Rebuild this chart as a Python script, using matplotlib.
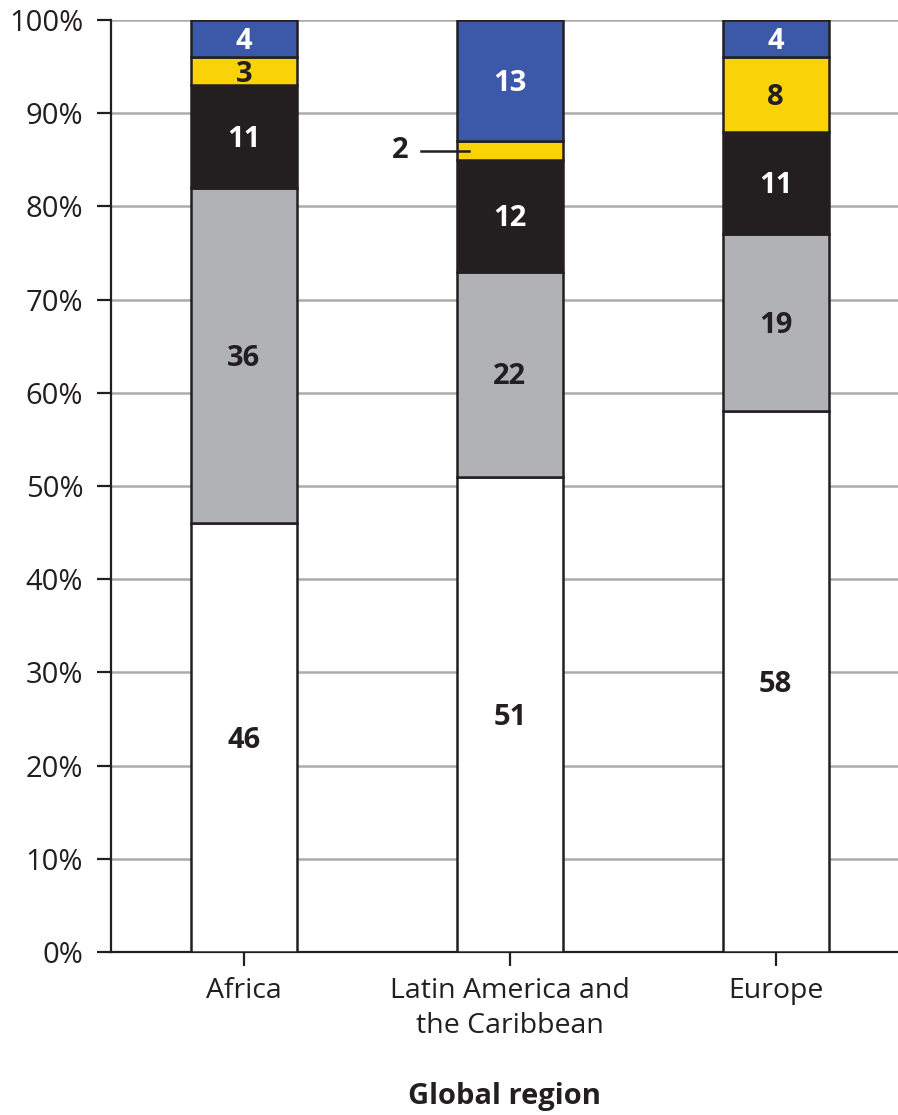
import matplotlib.pyplot as plt
import numpy as np
import matplotlib.ticker as mticker

plt.rcParams['font.family'] = ['Open Sans', 'DejaVu Sans']

regions = ['Africa', 'Latin America and\nthe Caribbean', 'Europe']
seg_white = [46, 51, 58]
seg_gray = [36, 22, 19]
seg_black = [11, 12, 11]
seg_yellow = [3, 2, 8]
seg_blue = [4, 13, 4]

series = [
    (seg_white, '#FFFFFF', '#231F20'),
    (seg_gray, '#B1B2B5', '#231F20'),
    (seg_black, '#231F20', '#FFFFFF'),
    (seg_yellow, '#F9D308', '#231F20'),
    (seg_blue, '#3C58A8', '#FFFFFF'),
]

fig = plt.figure(figsize=(8.98, 11.15), dpi=100)
ax = fig.add_axes([0.1236, 0.1462, 0.8764, 0.8358])

x = np.arange(len(regions))
width = 0.4
bottom = np.zeros(len(regions))
for vals, fc, tc in series:
    vals = np.array(vals, dtype=float)
    ax.bar(x, vals, width, bottom=bottom, color=fc, edgecolor='#231F20',
           linewidth=1.8, zorder=3)
    for xi, b, v in zip(x, bottom, vals):
        if v >= 3:
            ax.text(xi, b + v / 2 - 0.3, f'{int(v)}', ha='center', va='center',
                    color=tc, fontsize=21, fontweight='bold', zorder=4)
    bottom += vals

# small segment label with leader line
ly = seg_white[1] + seg_gray[1] + seg_black[1] + seg_yellow[1] / 2
ax.plot([0.665, 0.845], [ly, ly], color='#231F20', linewidth=1.8, zorder=5)
ax.text(0.586, ly, f'{seg_yellow[1]}', ha='center', va='center',
        color='#231F20', fontsize=21, fontweight='bold')

ax.set_xlim(-0.5, 2.46)
ax.set_ylim(0, 100)
ax.yaxis.set_major_locator(mticker.MultipleLocator(10))
ax.yaxis.set_major_formatter(mticker.FuncFormatter(lambda v, p: f'{int(v)}%'))
ax.grid(axis='y', color='#ABABAB', linewidth=1.8, zorder=0)
ax.set_axisbelow(True)

ax.set_xticks(x)
ax.set_xticklabels(regions, fontsize=20.5, linespacing=1.35)
ax.tick_params(axis='y', labelsize=21, length=10, width=1.6, color='#231F20',
               labelcolor='#231F20', pad=10)
ax.tick_params(axis='x', length=10, width=1.6, color='#231F20',
               labelcolor='#231F20', pad=8)

for s in ['top', 'right']:
    ax.spines[s].set_visible(False)
for s in ['left', 'bottom']:
    ax.spines[s].set_linewidth(1.6)
    ax.spines[s].set_color('#231F20')

ax.set_xlabel('Global region', fontsize=21, fontweight='bold', color='#231F20',
              labelpad=30)

plt.savefig('out.png', dpi=100)
